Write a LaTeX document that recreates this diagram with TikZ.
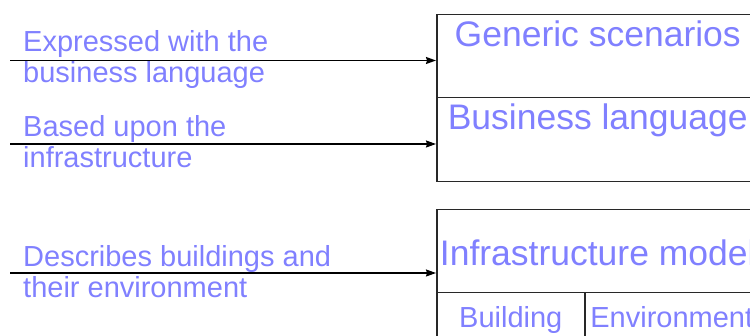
\documentclass[tikz,border=0pt]{standalone}
\usepackage{fontspec}
\setmainfont{Liberation Sans}
\usetikzlibrary{positioning,arrows.meta}
\definecolor{labelblue}{RGB}{128,128,255}
\definecolor{frame}{RGB}{40,40,40}

\begin{document}
\begin{tikzpicture}[x=1pt, y=-1pt, >={Stealth[length=10pt,width=7pt,inset=1pt]},
    part/.style={draw=frame, line width=1.5pt, anchor=north west, inner sep=0pt,
        minimum width=322pt, minimum height=83pt},
    title/.style={text=labelblue, anchor=base, inner sep=0pt,
        font=\fontsize{35.5}{40}\selectfont},
    subtitle/.style={title, font=\fontsize{29}{31}\selectfont},
    caption/.style={text=labelblue, anchor=base west, align=left, inner sep=0pt,
        font=\fontsize{29}{31}\selectfont},
    link/.style={->, line width=1.3pt}]
    \useasboundingbox (0,0) rectangle (750,336);
    \clip (0,0) rectangle (750,336);

    % layers on the right
    \node[part] (generic) at (436,14) {};
    \node[part, minimum height=84pt] (business) at (436,97) {};
    \node[part] (infra) at (436,209) {};
    \node[part, minimum width=148pt] (building) at (436,292) {};
    \node[part, minimum width=174pt] (environment) at (584,292) {};

    \node[title] (generictitle) at ([yshift=-33pt]generic.north) {Generic scenarios};
    \node[title] (businesstitle) at ([yshift=-33pt]business.north) {Business language};
    \node[title] (infratitle) at ([yshift=-57pt]infra.north) {Infrastructure model};
    \node[subtitle] (buildingtitle) at ([yshift=-36pt]building.north) {Building};
    \node[subtitle] (environmenttitle) at ([yshift=-36pt]environment.north) {Environment};

    % incoming relations
    \coordinate (in1) at (10,60.5);
    \coordinate (in2) at (10,144);
    \coordinate (in3) at (10,273);
    \draw[link] (in1) -- (in1 -| generic.west);
    \draw[link] (in2) -- (in2 -| business.west);
    \draw[link] (in3) -- (in3 -| infra.west);

    \node[caption] (expressed) at (23,83) {Expressed with the\\business language};
    \node[caption] (based) at (23,168) {Based upon the\\infrastructure};
    \node[caption] (describes) at (23,298) {Describes buildings and\\their environment};
\end{tikzpicture}
\end{document}
